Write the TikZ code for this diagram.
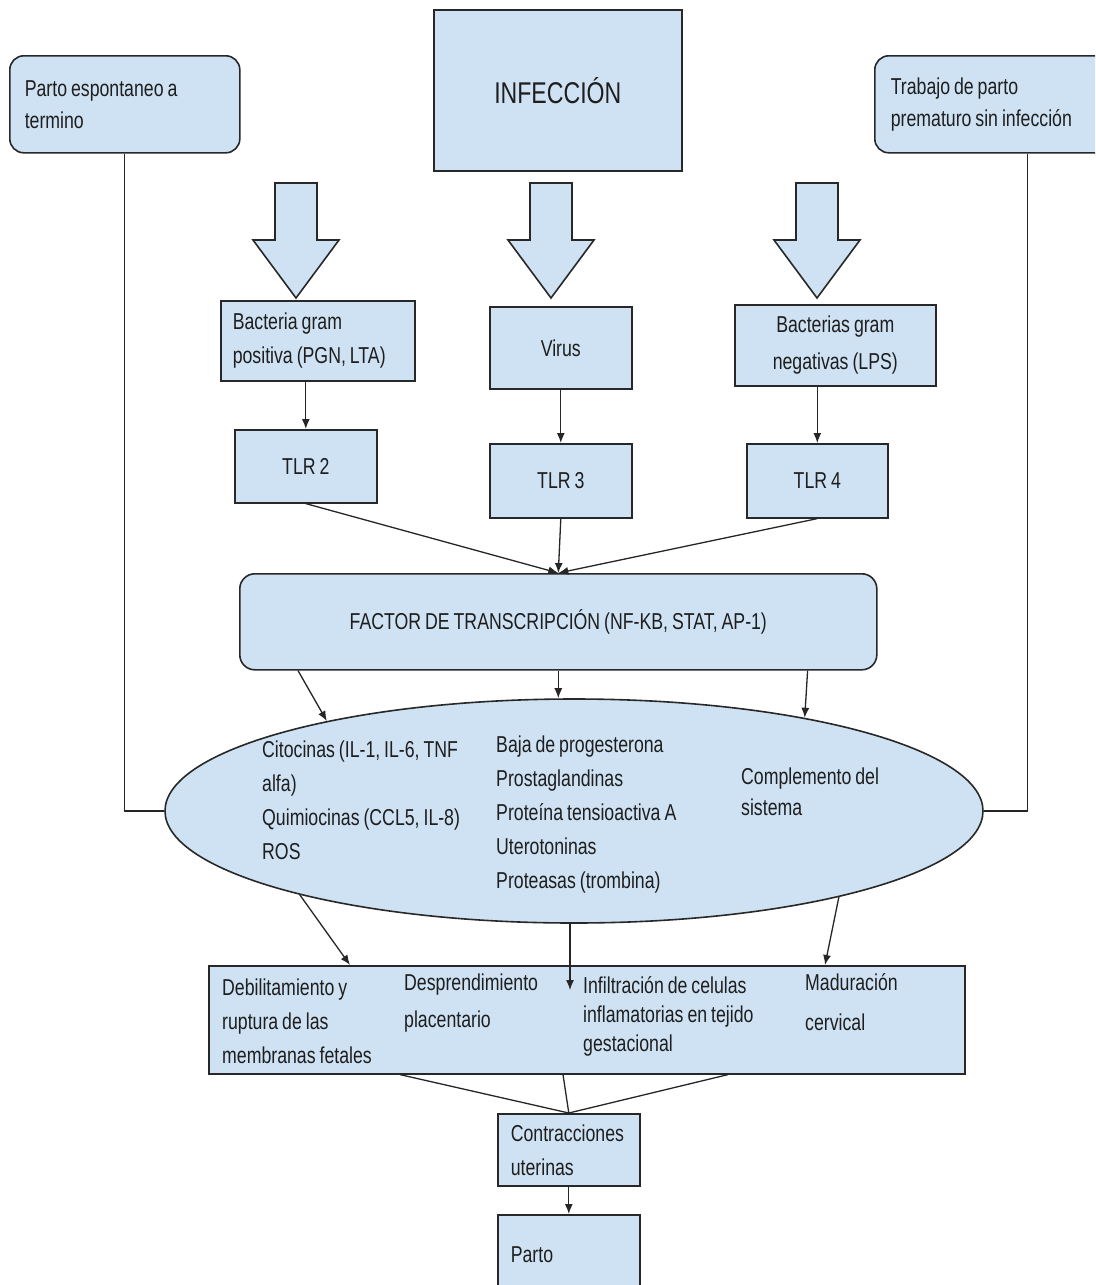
\documentclass[tikz,border=0pt]{standalone}
\usepackage{fontspec}
\setmainfont{Liberation Sans}[FakeStretch=0.77, WordSpace=0.8]
\usetikzlibrary{shapes,arrows,arrows.meta,positioning}
\definecolor{boxblue}{RGB}{207,226,243}
\definecolor{edge}{RGB}{40,40,40}
\definecolor{ink}{RGB}{30,30,30}

\begin{document}
\begin{tikzpicture}[x=1pt, y=-1pt,
    every node/.style={font=\fontsize{23}{32}\selectfont},
    box/.style={draw=edge, fill=boxblue, line width=1.6pt, inner ysep=0pt, text=ink},
    roundbox/.style={box, rounded corners=14pt},
    link/.style={draw=black!85, line width=1.3pt},
    arr/.style={link, -{Latex[length=10pt,width=8pt]}},
    coltext/.style={inner sep=0pt, anchor=north west, align=left, text=ink, font=\fontsize{23}{#1}\selectfont},
    blockarrow/.style={draw=edge, fill=boxblue, line width=1.6pt, line join=miter}]
    \clip (0,0) rectangle (1095,1285);
    \fill[white] (0,0) rectangle (1095,1285);

    % top row
    \node[roundbox, anchor=north west, minimum width=230pt, minimum height=97pt, text width=200pt, inner xsep=15pt, align=flush left] (termino) at (9,55) {Parto espontaneo a\\termino};
    \node[box, anchor=north west, minimum width=248pt, minimum height=161pt, font=\fontsize{30}{32}\selectfont] (infeccion) at (433,9) {INFECCIÓN};
    \node[roundbox, anchor=north west, minimum width=306pt, minimum height=97pt, text width=274pt, inner xsep=16pt, align=flush left] (sininf) at (874,55) {Trabajo de parto\\prematuro sin infección};

    % big arrows under the infection box
    \foreach \cx in {296,551,817}
      \draw[blockarrow] ({\cx-21},183) -- ({\cx+21},183) -- ({\cx+21},240) -- ({\cx+43},240)
        -- (\cx,298) -- ({\cx-43},240) -- ({\cx-21},240) -- cycle;

    % pathogens
    \node[box, anchor=north west, minimum width=194pt, minimum height=80pt, text width=170pt, inner xsep=12pt, align=flush left, font=\fontsize{23}{34}\selectfont] (grampos) at (220,300) {Bacteria gram\\positiva (PGN, LTA)};
    \node[box, anchor=north west, minimum width=142pt, minimum height=82pt] (virus) at (489,306) {Virus};
    \node[box, anchor=north west, minimum width=201pt, minimum height=81pt, align=center, font=\fontsize{23}{37}\selectfont] (gramneg) at (734,304) {Bacterias gram\\negativas (LPS)};

    % receptors
    \node[box, anchor=north west, minimum width=142pt, minimum height=73pt] (tlr2) at (234,429) {TLR 2};
    \node[box, anchor=north west, minimum width=142pt, minimum height=74pt] (tlr3) at (489,443) {TLR 3};
    \node[box, anchor=north west, minimum width=141pt, minimum height=74pt] (tlr4) at (746,443) {TLR 4};

    \draw[arr] (tlr2.north |- grampos.south) -- (tlr2.north);
    \draw[arr] (virus) -- (tlr3);
    \draw[arr] (tlr4.north |- gramneg.south) -- (tlr4.north);

    % transcription factor
    \node[roundbox, anchor=north west, minimum width=637pt, minimum height=96pt, rounded corners=15pt] (factor) at (239,573) {FACTOR DE TRANSCRIPCIÓN (NF-KB, STAT, AP-1)};

    \draw[arr] (tlr2.south) -- (factor.north);
    \draw[arr] (tlr3.south) -- (factor.north);
    \draw[arr] (tlr4.south) -- (factor.north);

    % mediators
    \node[ellipse, draw=edge, fill=boxblue, line width=1.6pt, minimum width=818pt, minimum height=224pt, inner sep=0pt] (mediadores) at (574,811) {};
    \node[coltext=34] (citocinas) at (262,741) {Citocinas (IL-1, IL-6, TNF\\alfa)\\Quimiocinas (CCL5, IL-8)\\ROS};
    \node[coltext=34] (hormonas) at (496,736) {Baja de progesterona\\Prostaglandinas\\Proteína tensioactiva A\\Uterotoninas\\Proteasas (trombina)};
    \node[coltext=31] (complemento) at (741,768) {Complemento del\\sistema};

    \draw[arr] ([xshift=59pt]factor.south west) -- (mediadores.160);
    \draw[arr] (factor.south) -- (factor.south |- mediadores.north);
    \draw[arr] ([xshift=-70pt]factor.south east) -- (mediadores.22);

    \draw[link] (termino.south) |- (mediadores.west);
    \draw[link] (sininf.south) |- (mediadores.east);

    % effects
    \node[box, anchor=north west, minimum width=756pt, minimum height=108pt] (efectos) at (208,965) {};
    \node[coltext=34] (membranas) at (222,979) {Debilitamiento y\\ruptura de las\\membranas fetales};
    \node[coltext=37] (placenta) at (404,974) {Desprendimiento\\placentario};
    \node[coltext=29] (infiltracion) at (583,976) {Infiltración de celulas\\inflamatorias en tejido\\gestacional};
    \node[coltext=40] (maduracion) at (805,973) {Maduración\\cervical};

    \coordinate (infpunta) at (570,990);
    \draw[arr] (mediadores.197) -- ([xshift=142pt]efectos.north west);
    \draw[arr] (infpunta |- mediadores.south) -- (infpunta);
    \draw[arr] (mediadores.-18) -- ([xshift=617pt]efectos.north west);

    % outcome
    \node[box, anchor=north west, minimum width=142pt, minimum height=72pt, text width=116pt, inner xsep=13pt, align=flush left, font=\fontsize{23}{34}\selectfont] (contracciones) at (497,1113) {Contracciones\\uterinas};
    \node[box, anchor=north west, minimum width=142pt, minimum height=80pt, text width=116pt, inner xsep=13pt, align=flush left] (parto) at (497,1214) {Parto};

    \draw[link] ([xshift=192pt]efectos.south west) -- (contracciones.north);
    \draw[link] ([xshift=355pt]efectos.south west) -- (contracciones.north);
    \draw[link] ([xshift=520pt]efectos.south west) -- (contracciones.north);
    \draw[arr] (contracciones) -- (parto);
\end{tikzpicture}
\end{document}
